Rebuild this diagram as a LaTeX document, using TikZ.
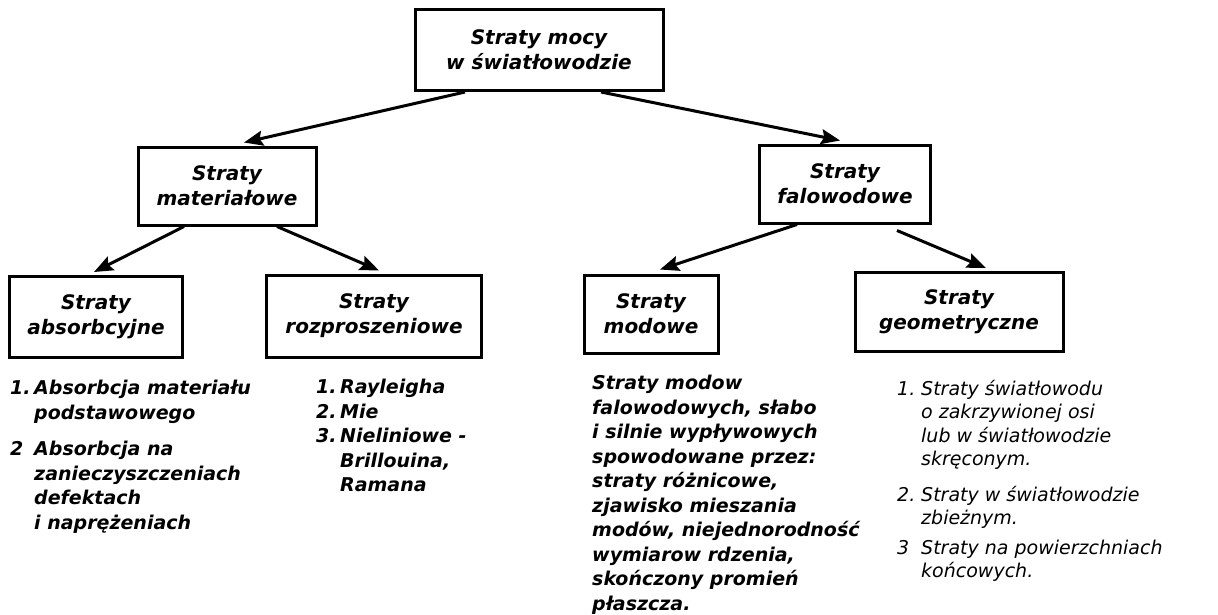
\documentclass[tikz,border=0pt]{standalone}
\usepackage{fontspec}
\setmainfont{DejaVu Sans}
\usetikzlibrary{arrows.meta, positioning}
\tikzset{
    %Define standard arrow tip
    >={Stealth[length=19pt,width=15pt,inset=3pt]},
}
\newcommand{\lbl}[2][24pt]{\makebox[#1][l]{#2}}

\begin{document}
\begin{tikzpicture}[x=1pt, y=-1pt,
    bx/.style = {draw, line width=3pt, align=center, inner sep=0pt,
                 font=\fontsize{20}{25}\selectfont\bfseries\itshape},
    ls/.style = {anchor=north west, align=left, inner sep=0pt,
                 font=\fontsize{19}{24.5}\selectfont\bfseries\itshape},
    lsl/.style = {ls, font=\fontsize{19}{23.5}\selectfont\itshape},
    arr/.style = {->, line width=3pt},
  ]
  \useasboundingbox (0,0) rectangle (1218,614);
  % boxes
  \node[bx, minimum width=248pt, minimum height=81pt] (moc) at (539,50) {Straty mocy\\w światłowodzie};
  \node[bx, minimum width=178pt, minimum height=78pt] (mat) at (227,186) {Straty\\materiałowe};
  \node[bx, minimum width=171pt, minimum height=78pt] (fal) at (845,184) {Straty\\falowodowe};
  \node[bx, minimum width=173pt, minimum height=81pt] (abs) at (96,317) {Straty\\absorbcyjne};
  \node[bx, minimum width=215pt, minimum height=82pt] (roz) at (374,316) {Straty\\rozproszeniowe};
  \node[bx, minimum width=134pt, minimum height=78pt] (mod) at (651,314) {Straty\\modowe};
  \node[bx, minimum width=208pt, minimum height=79pt] (geo) at (959,312) {Straty\\geometryczne};
  % lists
  \node[ls] (absl) at (10,380) {\lbl{1.}Absorbcja materiału\\
    \lbl{}podstawowego\\[12pt]
    \lbl{2}Absorbcja na\\
    \lbl{}zanieczyszczeniach\\
    \lbl{}defektach\\
    \lbl{}i naprężeniach};
  \node[ls] (rozl) at (316,379) {\lbl{1.}Rayleigha\\
    \lbl{2.}Mie\\
    \lbl{3.}Nieliniowe -\\
    \lbl{}Brillouina,\\
    \lbl{}Ramana};
  \node[ls] (modl) at (592,375) {Straty modow\\
    falowodowych, słabo\\
    i silnie wypływowych\\
    spowodowane przez:\\
    straty różnicowe,\\
    zjawisko mieszania\\
    modów, niejednorodność\\
    wymiarow rdzenia,\\
    skończony promień\\
    płaszcza.};
  \node[lsl] (geol) at (897,380) {\lbl{1.}Straty światłowodu\\
    \lbl{}o zakrzywionej osi\\
    \lbl{}lub w światłowodzie\\
    \lbl{}skręconym.\\[12pt]
    \lbl{2.}Straty w światłowodzie\\
    \lbl{}zbieżnym.\\[6pt]
    \lbl{3}Straty na powierzchniach\\
    \lbl{}końcowych.};
  % arrows
  \draw[arr] ([xshift=-74pt]moc.south) -- ([xshift=17pt, yshift=3pt]mat.north);
  \draw[arr] ([xshift=62pt]moc.south) -- ([xshift=-5pt, yshift=3pt]fal.north);
  \draw[arr] ([xshift=-43pt]mat.south) -- ([xshift=-2pt, yshift=3pt]abs.north);
  \draw[arr] ([xshift=50pt]mat.south) -- ([xshift=5pt, yshift=3pt]roz.north);
  \draw[arr] ([xshift=-48pt]fal.south) -- ([xshift=9pt, yshift=4pt]mod.north);
  \draw[arr] ([xshift=52pt, yshift=-6pt]fal.south) -- ([xshift=27pt, yshift=3pt]geo.north);
\end{tikzpicture}
\end{document}
